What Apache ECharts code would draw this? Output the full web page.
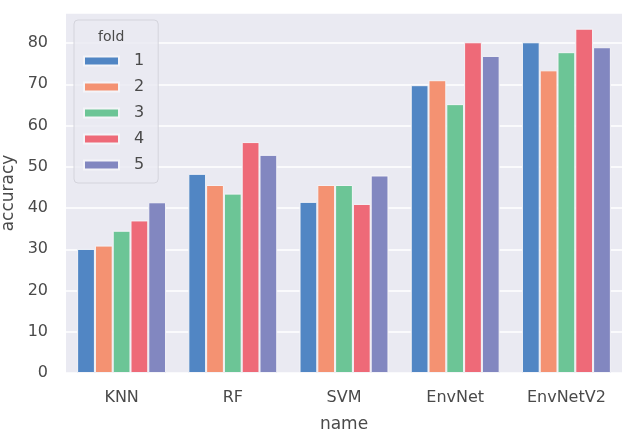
<!DOCTYPE html>
<html>
<head>
<meta charset="utf-8">
<script src="https://cdn.jsdelivr.net/npm/echarts@6/dist/echarts.min.js"></script>
<style>
  html, body { margin: 0; padding: 0; background: #fff; }
  #main { width: 622px; height: 435px; }
</style>
</head>
<body>
<div id="main"></div>
<script>
// model names on the x axis
var names = ['KNN', 'RF', 'SVM', 'EnvNet', 'EnvNetV2'];
var folds = ['1', '2', '3', '4', '5'];

// accuracy per fold
var fold1 = [30.1, 48.3, 41.5, 69.8, 80.2];
var fold2 = [30.9, 45.6, 45.6, 71.0, 73.4];
var fold3 = [34.5, 43.5, 45.6, 65.2, 77.8];
var fold4 = [37.0, 56.0, 41.0, 80.2, 83.5];
var fold5 = [41.4, 52.9, 47.9, 76.9, 79.0];

var yTicks = [0, 10, 20, 30, 40, 50, 60, 70, 80];
var colors = ['#5186c4', '#f49272', '#6cc596', '#ee6a78', '#8287c0'];

var myChart = echarts.init(document.getElementById('main'));

var allFolds = [fold1, fold2, fold3, fold4, fold5];
var series = allFolds.map(function (d, i) {
  return {
    name: folds[i],
    type: 'bar',
    data: d,
    barGap: '0%',
    barCategoryGap: '20%',
    itemStyle: { color: colors[i], borderColor: '#f4f4f8', borderWidth: 1 }
  };
});

var font = 'DejaVu Sans';
var txt = '#4a4a4a';

myChart.setOption({
  backgroundColor: '#fff',
  animation: false,
  color: colors,
  textStyle: { fontFamily: font },
  title: {
    text: 'fold',
    left: 93,
    top: 25,
    textStyle: { fontFamily: font, fontSize: 14, fontWeight: 'normal', color: txt }
  },
  legend: {
    data: folds,
    orient: 'vertical',
    left: 74,
    top: 20,
    padding: [33, 14, 10, 9],
    itemWidth: 35,
    itemHeight: 9,
    itemGap: 10,
    backgroundColor: 'rgba(234,234,242,0.85)',
    borderColor: '#d4d4dc',
    borderWidth: 1,
    borderRadius: 4,
    icon: 'rect',
    textStyle: { fontFamily: font, fontSize: 16, color: txt, padding: [0, 0, 0, 10] }
  },
  grid: {
    left: 66,
    right: 0,
    top: 13,
    bottom: 62,
    outerBoundsMode: 'none',
    containLabel: false,
    show: true,
    backgroundColor: '#eaeaf2',
    borderWidth: 0
  },
  xAxis: {
    type: 'category',
    data: names,
    name: 'name',
    nameLocation: 'middle',
    nameGap: 43,
    nameTextStyle: { fontFamily: font, fontSize: 17, color: txt },
    axisLine: { show: false },
    axisTick: { show: false },
    axisLabel: { fontFamily: font, fontSize: 16, color: txt, margin: 17 },
    splitLine: { show: false }
  },
  yAxis: {
    type: 'value',
    min: 0,
    max: 87.3,
    interval: 10,
    name: 'accuracy',
    nameLocation: 'middle',
    nameGap: 48,
    nameTextStyle: { fontFamily: font, fontSize: 17, color: txt },
    axisLine: { show: false },
    axisTick: { show: false },
    axisLabel: {
      fontFamily: font, fontSize: 16, color: txt, margin: 18,
      formatter: function (v) { return yTicks.indexOf(v) >= 0 ? String(v) : ''; }
    },
    splitLine: { lineStyle: { color: '#fff', width: 1.5 } }
  },
  series: series
});
</script>
</body>
</html>
